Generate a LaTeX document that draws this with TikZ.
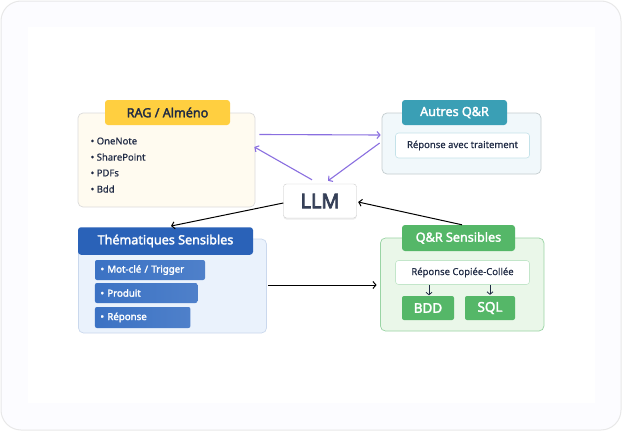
\documentclass[tikz,border=0pt]{standalone}
\usepackage{fontspec}
\setmainfont{Noto Sans}
\newfontfamily\boldish[FakeBold=2.2]{Noto Sans}
\newfontfamily\heavyish[FakeBold=3.6]{Noto Sans}
\newfontfamily\halfbold[FakeBold=0.3]{Noto Sans}
\usetikzlibrary{shadows,arrows.meta}
\definecolor{inkdark}{HTML}{1F2A44}
\definecolor{purplearrow}{HTML}{8A6FE0}
\definecolor{yellowhead}{HTML}{FFCF40}
\definecolor{tealhead}{HTML}{3A9FB5}
\definecolor{bluehead}{HTML}{2A62B8}
\definecolor{greenhead}{HTML}{55B768}
\definecolor{blueitem}{HTML}{3B72C4}
\definecolor{yellowfill}{HTML}{FFFBF0}
\definecolor{tealfill}{HTML}{F1F8FB}
\definecolor{bluefill}{HTML}{EAF2FC}
\definecolor{greenfill}{HTML}{EAF7E9}
\tikzset{
panel/.style={draw,rounded corners=5pt,inner sep=0pt,line width=0.7pt},
title/.style={rounded corners=3pt,inner sep=0pt,font=\fontsize{12.6}{14}\boldish},
textbox/.style={rounded corners=3pt,inner sep=0pt,line width=0.6pt,font=\fontsize{9.5}{11}\halfbold,text=inkdark},
bluebox/.style={rounded corners=2pt,inner sep=0pt,left color=blueitem,right color=blueitem!90!white,
  text=white,font=\fontsize{9.7}{11}\boldish,text width=#1,align=left},
greenbox/.style={rounded corners=2pt,inner sep=0pt,fill=greenhead,text=white,minimum height=24pt,font=\fontsize{13.5}{15}\boldish},
listitem/.style={inner sep=0pt,anchor=west,text=inkdark,font=\fontsize{9.5}{11}\halfbold},
arr/.style={-{Straight Barb[length=3pt,width=7pt]},line width=1pt,black},
parr/.style={-{Straight Barb[length=3pt,width=7pt]},line width=1.1pt,purplearrow},
sarr/.style={-{Straight Barb[length=2.5pt,width=6pt]},line width=0.8pt,inkdark},
}
\begin{document}
\begin{tikzpicture}[x=1pt,y=-1pt]
\useasboundingbox (0,0) rectangle (622,431);
% background
\path[draw=black!9,fill=black!2!blue!1!white,rounded corners=20pt,line width=1pt] (1,1) rectangle (621,430);
\path[fill=white] (28,27) rectangle (595,403);

% RAG
\node[panel,draw=black!14,fill=yellowfill,minimum width=177pt,minimum height=94pt] (ragbox) at (166.5,160) {};
\node[title,fill=yellowhead,text=inkdark,minimum width=125pt,minimum height=25pt] (ragtitle) at (167.5,112.5) {RAG / Alméno};
\node[listitem] (onenote) at (90.5,141) {• OneNote};
\node[listitem] (sharepoint) at (90.5,157) {• SharePoint};
\node[listitem] (pdfs) at (90.5,173) {• PDFs};
\node[listitem] (bdditem) at (90.5,189) {• Bdd};

% Autres
\node[panel,draw=tealhead!35!black!25,fill=tealfill,minimum width=159pt,minimum height=61pt] (autresbox) at (461.5,143.5) {};
\node[title,fill=tealhead,text=white,minimum width=105pt,minimum height=25pt] (autrestitle) at (454.5,112.5) {Autres Q\&R};
\node[textbox,draw=tealhead!30,fill=white,minimum width=134pt,minimum height=25pt] (avec) at (462.5,145.5) {Réponse avec traitement};

% LLM
\node[draw=black!20,fill=white,rounded corners=3pt,inner sep=0pt,minimum width=73pt,minimum height=34pt,
  drop shadow={opacity=0.15,shadow xshift=0pt,shadow yshift=-1.5pt},text=inkdark!90!white,font=\fontsize{20}{22}\heavyish] (llm) at (320,201) {LLM};

% Thematiques
\node[panel,draw=bluehead!25,fill=bluefill,minimum width=188pt,minimum height=94pt] (thembox) at (172.5,286) {};
\node[title,fill=bluehead,text=white,minimum width=175pt,minimum height=27.5pt] (themtitle) at (165.5,241) {Thématiques Sensibles};
\node[bluebox=99pt,minimum width=110pt,minimum height=20pt] (motcle) at (150,270) {• Mot-clé / Trigger};
\node[bluebox=91.5pt,minimum width=102.5pt,minimum height=20pt] (produit) at (146.2,293) {• Produit};
\node[bluebox=84.5pt,minimum width=95.5pt,minimum height=21pt] (reponse) at (142.7,317.5) {• Réponse};

% QR
\node[panel,draw=greenhead!60,fill=greenfill,minimum width=163.5pt,minimum height=93pt] (qrbox) at (462.2,284.5) {};
\node[title,fill=greenhead,text=white,minimum width=113pt,minimum height=26pt] (qrtitle) at (458.5,238) {Q\&R Sensibles};
\node[textbox,draw=greenhead!35,fill=white,minimum width=134pt,minimum height=24pt] (copie) at (462.5,272.5) {Réponse Copiée-Collée};
\node[greenbox,minimum width=52pt] (bddbox) at (428,308) {BDD};
\node[greenbox,minimum width=50pt] (sqlbox) at (490,308) {SQL};

% arrows
\draw[parr] ([xshift=4pt,yshift=25.5pt]ragbox.east) -- ([xshift=-1pt,yshift=8.5pt]autresbox.west);
\draw[parr] ([xshift=-8pt,yshift=4pt]llm.north) -- ([xshift=-1pt,yshift=13pt]ragbox.east);
\draw[parr] ([xshift=-2pt,yshift=0.5pt]autresbox.west) -- ([xshift=8pt,yshift=3pt]llm.north);
\draw[arr] ([yshift=-2pt]llm.west) -- ([xshift=5.5pt,yshift=1pt]themtitle.north);
\draw[arr] ([xshift=3.5pt]qrtitle.north) -- ([xshift=1.5pt,yshift=-1pt]llm.east);
\draw[arr] ([xshift=1.5pt,yshift=1pt]thembox.east) -- ([xshift=-3.5pt,yshift=-0.5pt]qrbox.west);
\draw[sarr] ([xshift=1pt]bddbox.north |- copie.south) -- ([xshift=1pt,yshift=0.5pt]bddbox.north);
\draw[sarr] (sqlbox.north |- copie.south) -- ([yshift=1pt]sqlbox.north);
\end{tikzpicture}
\end{document}
